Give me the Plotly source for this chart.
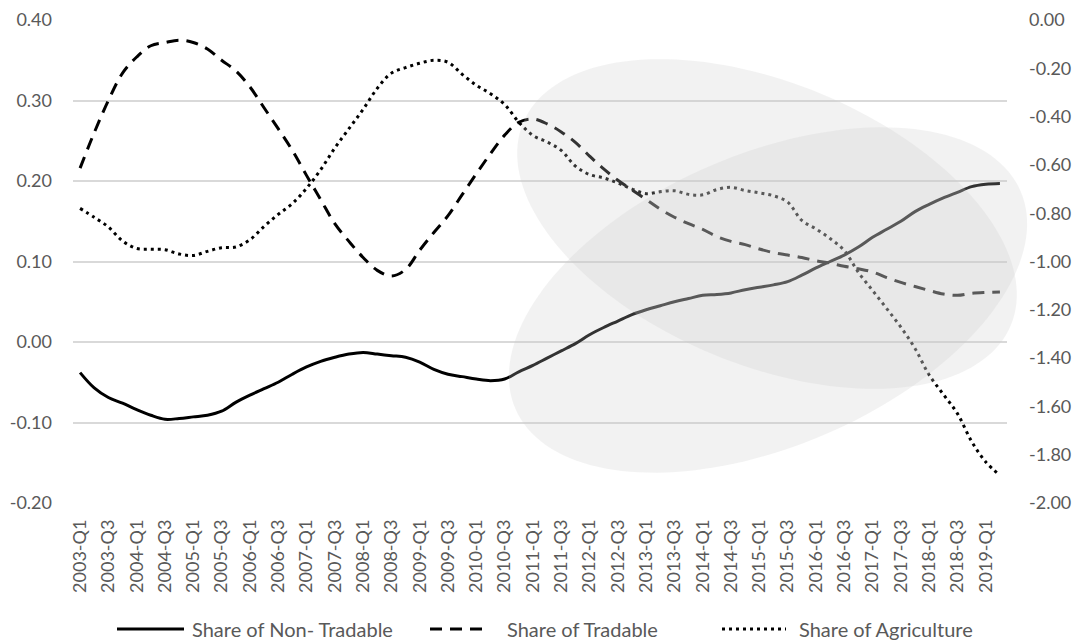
import math
import plotly.graph_objects as go

# Quarterly categories, 2003-Q1 .. 2019-Q2
quarters = [f"{yr}-Q{q}" for yr in range(2003, 2020) for q in range(1, 5)][:66]

# Left axis series
non_tradable = [
    -0.038, -0.057, -0.069, -0.076, -0.084, -0.091, -0.096, -0.095, -0.093, -0.091,
    -0.086, -0.075, -0.066, -0.058, -0.050, -0.040, -0.031, -0.024, -0.019, -0.015,
    -0.013, -0.015, -0.017, -0.019, -0.025, -0.034, -0.040, -0.043, -0.046, -0.048,
    -0.046, -0.037, -0.029, -0.020, -0.011, -0.002, 0.009, 0.018, 0.026, 0.034,
    0.040, 0.045, 0.050, 0.054, 0.058, 0.059, 0.061, 0.065, 0.068, 0.071,
    0.075, 0.083, 0.092, 0.100, 0.108, 0.118, 0.130, 0.140, 0.150, 0.162,
    0.171, 0.179, 0.186, 0.193, 0.196, 0.197,
]
tradable = [
    0.216, 0.260, 0.300, 0.334, 0.354, 0.368, 0.372, 0.375, 0.372, 0.364,
    0.350, 0.337, 0.317, 0.291, 0.265, 0.238, 0.207, 0.177, 0.147, 0.125,
    0.105, 0.089, 0.082, 0.090, 0.114, 0.136, 0.157, 0.183, 0.209, 0.234,
    0.257, 0.273, 0.277, 0.271, 0.261, 0.248, 0.231, 0.215, 0.201, 0.189,
    0.177, 0.165, 0.155, 0.147, 0.140, 0.131, 0.125, 0.121, 0.1155, 0.111,
    0.108, 0.105, 0.101, 0.098, 0.094, 0.091, 0.087, 0.080, 0.074, 0.069,
    0.064, 0.0595, 0.058, 0.0605, 0.0615, 0.062,
]
# Right axis series
agriculture = [
    -0.780, -0.817, -0.857, -0.915, -0.946, -0.949, -0.951, -0.969, -0.975, -0.958,
    -0.943, -0.940, -0.910, -0.855, -0.805, -0.760, -0.697, -0.620, -0.530, -0.450,
    -0.370, -0.283, -0.220, -0.197, -0.179, -0.167, -0.175, -0.225, -0.270, -0.305,
    -0.350, -0.423, -0.478, -0.505, -0.540, -0.605, -0.640, -0.654, -0.675, -0.700,
    -0.719, -0.711, -0.707, -0.722, -0.724, -0.702, -0.693, -0.706, -0.716, -0.728,
    -0.754, -0.830, -0.865, -0.905, -0.955, -1.045, -1.120, -1.195, -1.272, -1.360,
    -1.470, -1.550, -1.630, -1.745, -1.830, -1.885,
]

series_names = ["Share of Non- Tradable", "Share of Tradable", "Share of Agriculture"]

# Axis ticks (labels use a plain hyphen for negatives)
left_tickvals = [-0.2, -0.1, 0.0, 0.1, 0.2, 0.3, 0.4]
left_ticktext = ["-0.20", "-0.10", "0.00", "0.10", "0.20", "0.30", "0.40"]
right_tickvals = [-2.0, -1.8, -1.6, -1.4, -1.2, -1.0, -0.8, -0.6, -0.4, -0.2, 0.0]
right_ticktext = ["-2.00", "-1.80", "-1.60", "-1.40", "-1.20", "-1.00",
                  "-0.80", "-0.60", "-0.40", "-0.20", "0.00"]

W, H = 1077, 642
ML, MR, MT, MB = 73, 70, 20, 139
PW, PH = W - ML - MR, H - MT - MB

FONT = "Lato"
TEXT_GREY = "#595959"
GRID = "#D9D9D9"
DASH = "12px,8px"
DOT = "3px,4px"

fig = go.Figure()
fig.add_trace(go.Scatter(x=quarters, y=non_tradable, name=series_names[0], mode="lines",
                         line=dict(color="black", width=3, shape="spline"), yaxis="y"))
fig.add_trace(go.Scatter(x=quarters, y=tradable, name=series_names[1], mode="lines",
                         line=dict(color="black", width=3, dash=DASH, shape="spline"), yaxis="y"))
fig.add_trace(go.Scatter(x=quarters, y=agriculture, name=series_names[2], mode="lines",
                         line=dict(color="black", width=3, dash=DOT, shape="spline"), yaxis="y2"))


def px_to_paper(px, py):
    return (px - ML) / PW, (H - MB - py) / PH


def ellipse_path(cx, cy, a, b, theta_deg, n=160):
    """Rotated ellipse outline given in screen pixels, returned as a paper-space SVG path."""
    th = math.radians(theta_deg)
    pts = []
    for k in range(n):
        t = 2 * math.pi * k / n
        x = cx + a * math.cos(t) * math.cos(th) - b * math.sin(t) * math.sin(th)
        y = cy + a * math.cos(t) * math.sin(th) + b * math.sin(t) * math.cos(th)
        pts.append(px_to_paper(x, y))
    return "M " + " L ".join(f"{u:.5f},{v:.5f}" for u, v in pts) + " Z"


shapes = []
# Highlight ellipses drawn over the lines
for cx, cy, a, b, th in [(767, 224, 264, 141, 22.5), (768, 300, 275, 146, -23.3)]:
    shapes.append(dict(type="path", xref="paper", yref="paper", layer="above",
                       path=ellipse_path(cx, cy, a, b, th),
                       fillcolor="rgba(203,203,203,0.25)", line=dict(width=0)))

# Legend row below the axis
legend_y = px_to_paper(0, 629)[1]
legend_items = [(117, 184, 190, None), (430, 490, 505, DASH), (722, 786, 797, DOT)]
annotations = []
for (x0, x1, xt, dash), name in zip(legend_items, series_names):
    line = dict(color="black", width=3)
    if dash:
        line["dash"] = dash
    shapes.append(dict(type="line", xref="paper", yref="paper",
                       x0=px_to_paper(x0, 0)[0], x1=px_to_paper(x1, 0)[0],
                       y0=legend_y, y1=legend_y, line=line))
    annotations.append(dict(xref="paper", yref="paper", x=px_to_paper(xt, 0)[0], y=legend_y,
                            xanchor="left", yanchor="middle", showarrow=False, text=name,
                            font=dict(family=FONT, size=20, color=TEXT_GREY)))

fig.update_layout(
    width=W, height=H, autosize=False,
    margin=dict(l=ML, r=MR, t=MT, b=MB, pad=0),
    paper_bgcolor="white", plot_bgcolor="white",
    font=dict(family=FONT, color=TEXT_GREY, size=18),
    showlegend=False,
    xaxis=dict(type="category", range=[-0.5, len(quarters) - 0.5],
               tickmode="array", tickvals=quarters[::2], tickangle=-90,
               tickfont=dict(size=18, color=TEXT_GREY), showgrid=False,
               showline=False, zeroline=False, ticks="", ticklabelstandoff=12,
               automargin=False),
    yaxis=dict(range=[-0.2, 0.4], tickmode="array", tickvals=left_tickvals,
               ticktext=left_ticktext,
               gridcolor=GRID, gridwidth=1.5, zeroline=False, showline=False,
               ticks="", tickfont=dict(size=18, color=TEXT_GREY), ticklabelstandoff=20,
               automargin=False),
    yaxis2=dict(range=[-2.0, 0.0], tickmode="array", tickvals=right_tickvals,
                ticktext=right_ticktext,
                overlaying="y", side="right", showgrid=False, zeroline=False,
                showline=False, ticks="", tickfont=dict(size=18, color=TEXT_GREY),
                ticklabelstandoff=21, automargin=False),
    shapes=shapes,
    annotations=annotations,
)

fig.write_html("out.html")
